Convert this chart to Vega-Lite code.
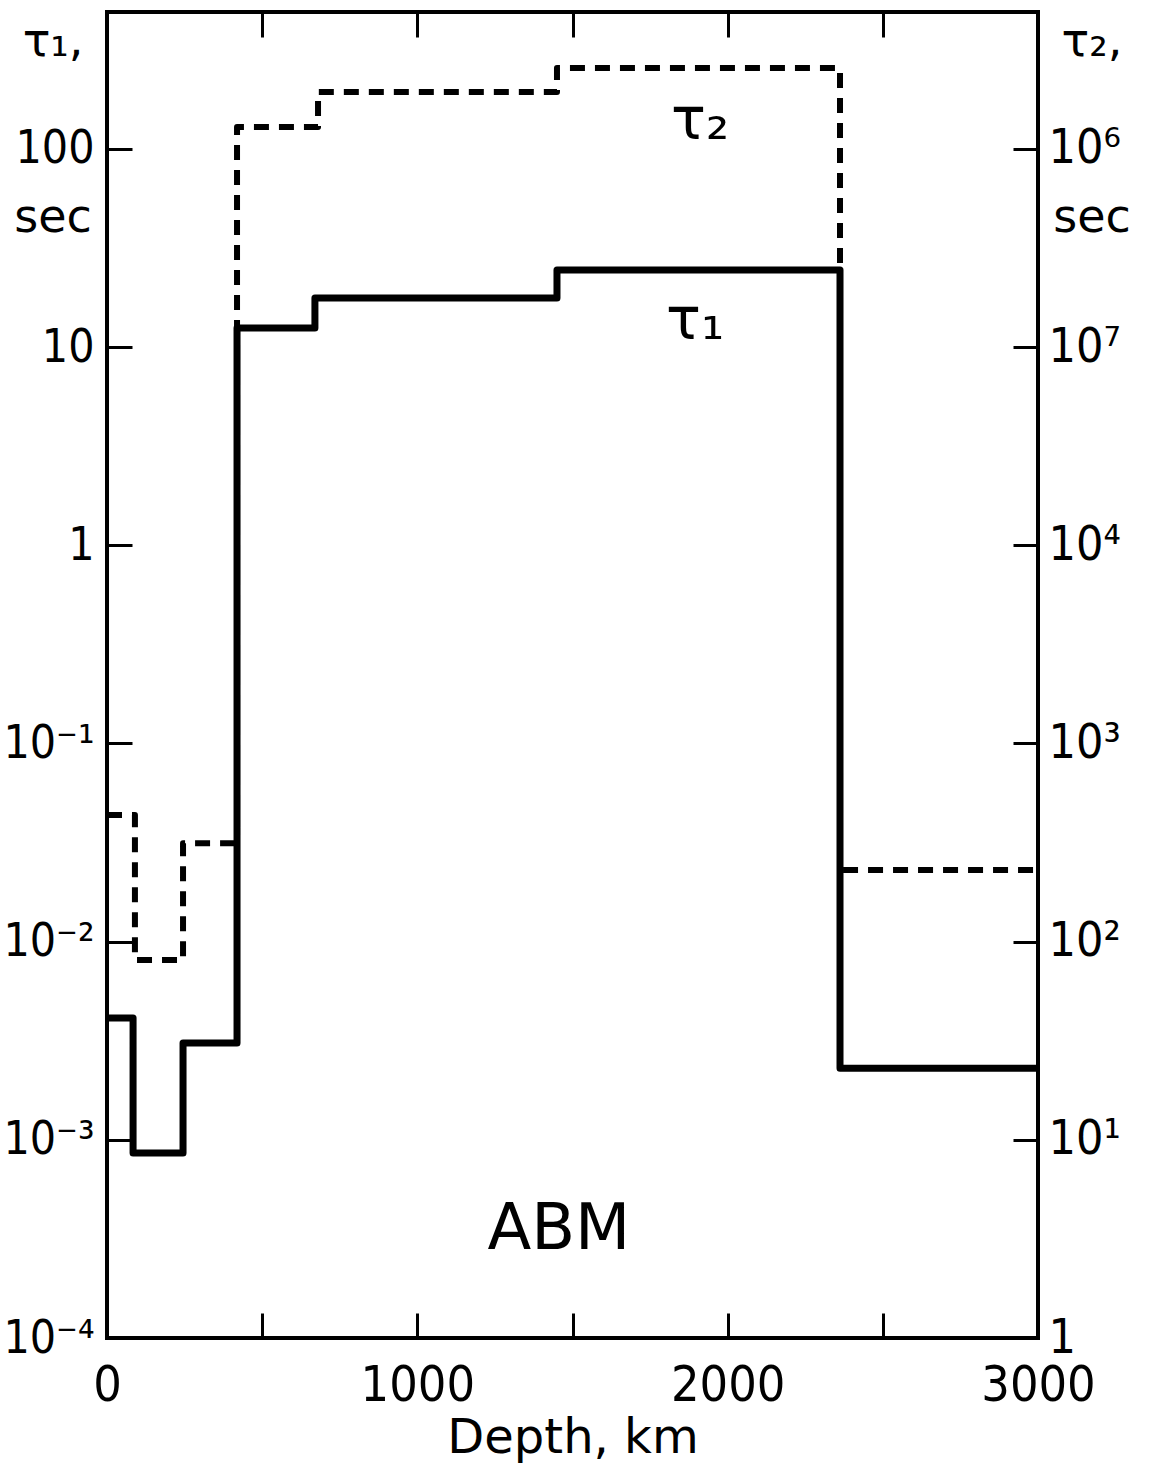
{
  "$schema": "https://vega.github.io/schema/vega-lite/v6.json",
  "width": 931,
  "height": 1326,
  "autosize": {"type": "none"},
  "padding": {"left": 107, "top": 12, "right": 112, "bottom": 129},
  "background": "white",
  "config": {
    "view": {"stroke": "black", "strokeWidth": 4},
    "axis": {
      "domain": false,
      "grid": false,
      "tickColor": "black",
      "tickWidth": 3,
      "tickSize": -25,
      "labelFont": "'DejaVu Sans Condensed', 'DejaVu Sans'",
      "labelFontSize": 48,
      "labelColor": "black",
      "titleFont": "DejaVu Sans",
      "titleFontSize": 48,
      "titleColor": "black",
      "titleFontWeight": "normal"
    },
    "text": {"font": "DejaVu Sans", "color": "black"}
  },
  "datasets": {
    "tau1": [
      {"depth": 0, "tau": 0.00412},
      {"depth": 84, "tau": 0.000857},
      {"depth": 245, "tau": 0.00308},
      {"depth": 419, "tau": 12.5},
      {"depth": 670, "tau": 17.7},
      {"depth": 1450, "tau": 24.5},
      {"depth": 2362, "tau": 0.0023},
      {"depth": 3000, "tau": 0.0023}
    ],
    "tau2": [
      {"depth": 0, "tau": 435},
      {"depth": 90, "tau": 80.7},
      {"depth": 245, "tau": 314},
      {"depth": 419, "tau": 1290000},
      {"depth": 680, "tau": 1940000},
      {"depth": 1450, "tau": 2560000},
      {"depth": 2362, "tau": 230},
      {"depth": 3000, "tau": 230}
    ],
    "curveLabels": [
      {"depth": 1911, "tau": 136, "text": "τ₂"},
      {"depth": 1895, "tau": 13.4, "text": "τ₁"}
    ],
    "model": [
      {"depth": 1456, "tau": 0.00035, "text": "ABM"}
    ],
    "units": [
      {"depth": -174, "tau": 346, "text": "τ₁,"},
      {"depth": -174, "tau": 44.8, "text": "sec"},
      {"depth": 3174, "tau": 346, "text": "τ₂,"},
      {"depth": 3174, "tau": 44.8, "text": "sec"}
    ]
  },
  "resolve": {"scale": {"y": "independent"}, "axis": {"x": "independent"}},
  "layer": [
    {
      "layer": [
        {
          "data": {"name": "tau1"},
          "mark": {"type": "line", "interpolate": "step-after", "strokeWidth": 7, "color": "black", "strokeJoin": "round"},
          "encoding": {
            "x": {
              "field": "depth", "type": "quantitative",
              "scale": {"domain": [0, 3000], "nice": false, "zero": false},
              "axis": {
                "orient": "bottom",
                "values": [0, 500, 1000, 1500, 2000, 2500, 3000],
                "labelExpr": "datum.value % 1000 == 0 ? '' + datum.value : ''",
                "labelPadding": 47,
                "labelFontSize": 50,
                "labelFlush": false,
                "title": "Depth, km",
                "titlePadding": 4
              }
            },
            "y": {
              "field": "tau", "type": "quantitative",
              "scale": {"type": "log", "domain": [0.0001, 491], "nice": false},
              "axis": {
                "orient": "left",
                "values": [0.0001, 0.001, 0.01, 0.1, 1, 10, 100],
                "labelExpr": "['10⁻⁴','10⁻³','10⁻²','10⁻¹','1','10','100'][round(log(datum.value)/LN10) + 4]",
                "labelPadding": 38,
                "labelFontSize": 46,
                "labelFlush": false,
                "title": null
              }
            }
          }
        },
        {
          "data": {"name": "curveLabels"},
          "mark": {"type": "text", "fontSize": 58, "align": "center", "baseline": "middle"},
          "encoding": {
            "x": {"field": "depth", "type": "quantitative"},
            "y": {"field": "tau", "type": "quantitative"},
            "text": {"field": "text"}
          }
        },
        {
          "data": {"name": "model"},
          "mark": {"type": "text", "fontSize": 64, "align": "center", "baseline": "middle"},
          "encoding": {
            "x": {"field": "depth", "type": "quantitative"},
            "y": {"field": "tau", "type": "quantitative"},
            "text": {"field": "text"}
          }
        },
        {
          "data": {"name": "units"},
          "mark": {"type": "text", "fontSize": 46, "align": "center", "baseline": "middle"},
          "encoding": {
            "x": {"field": "depth", "type": "quantitative"},
            "y": {"field": "tau", "type": "quantitative"},
            "text": {"field": "text"}
          }
        }
      ]
    },
    {
      "data": {"name": "tau2"},
      "mark": {"type": "line", "interpolate": "step-after", "strokeWidth": 6, "color": "black", "strokeDash": [15, 10], "strokeJoin": "round"},
      "encoding": {
        "x": {
          "field": "depth", "type": "quantitative",
          "scale": {"domain": [0, 3000], "nice": false, "zero": false},
          "axis": {
            "orient": "top",
            "values": [500, 1000, 1500, 2000, 2500],
            "labels": false,
            "title": null
          }
        },
        "y": {
          "field": "tau", "type": "quantitative",
          "scale": {"type": "log", "domain": [1, 4910000], "nice": false},
          "axis": {
            "orient": "right",
            "values": [1, 10, 100, 1000, 10000, 100000, 1000000],
            "labelExpr": "['1','10¹','10²','10³','10⁴','10⁷','10⁶'][round(log(datum.value)/LN10)]",
            "labelPadding": 35,
            "labelFlush": false,
            "title": null
          }
        }
      }
    }
  ]
}
